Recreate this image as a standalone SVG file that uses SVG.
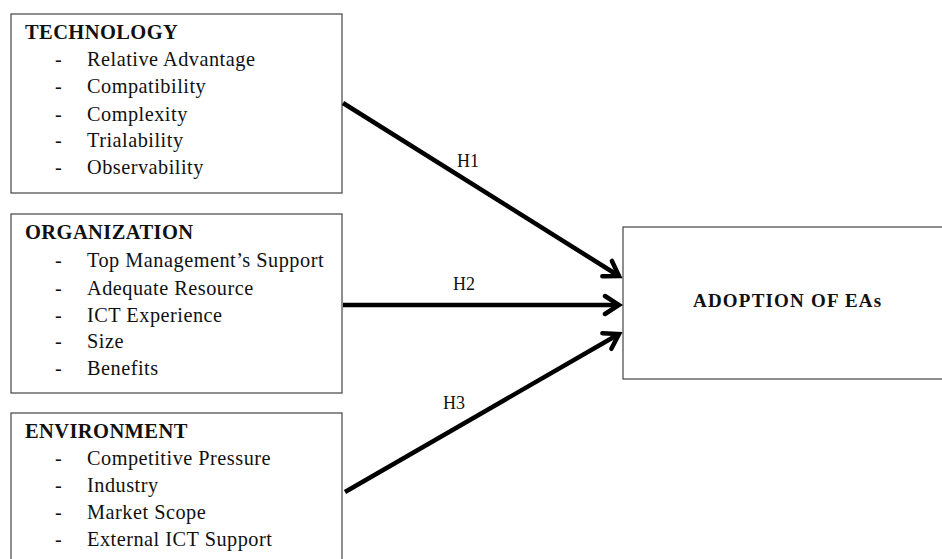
<svg xmlns="http://www.w3.org/2000/svg" width="942" height="559" viewBox="0 0 942 559">
<style>
.box{fill:#fff;stroke:#444;stroke-width:1.2}
.t{font-family:"Liberation Serif","Times New Roman",serif;font-size:20.3px;fill:#111}
.h{font-weight:bold;font-size:20.5px;letter-spacing:0.4px}
.i{letter-spacing:0.5px}
.lbl{font-family:"Liberation Serif","Times New Roman",serif;font-size:18px;fill:#111}
.c{stroke:#000;stroke-width:4.5;fill:none;marker-end:url(#ah)}
</style>
<defs>
<marker id="ah" markerUnits="userSpaceOnUse" viewBox="-20 -12 24 24" refX="0" refY="0" markerWidth="24" markerHeight="24" orient="auto">
<polyline points="-14,-9 0,0 -14,9" fill="none" stroke="#000" stroke-width="4.5" stroke-linecap="round" stroke-linejoin="miter"/>
</marker>
</defs>
<rect width="942" height="559" fill="#fff"/>
<g id="technology">
<rect class="box" x="11" y="14" width="331" height="179"/>
<text class="t h" x="25" y="39">TECHNOLOGY</text>
<g class="t i">
<text x="55" y="66">-</text><text x="87" y="66">Relative Advantage</text>
<text x="55" y="93">-</text><text x="87" y="93">Compatibility</text>
<text x="55" y="121">-</text><text x="87" y="121">Complexity</text>
<text x="55" y="147">-</text><text x="87" y="147">Trialability</text>
<text x="55" y="174">-</text><text x="87" y="174">Observability</text>
</g>
</g>
<g id="organization">
<rect class="box" x="11" y="214" width="331" height="179"/>
<text class="t h" x="25" y="239">ORGANIZATION</text>
<g class="t i">
<text x="55" y="267">-</text><text x="87" y="267">Top Management’s Support</text>
<text x="55" y="295">-</text><text x="87" y="295">Adequate Resource</text>
<text x="55" y="322">-</text><text x="87" y="322">ICT Experience</text>
<text x="55" y="348">-</text><text x="87" y="348">Size</text>
<text x="55" y="375">-</text><text x="87" y="375">Benefits</text>
</g>
</g>
<g id="environment">
<rect class="box" x="11" y="413" width="331" height="160"/>
<text class="t h" x="25" y="438">ENVIRONMENT</text>
<g class="t i">
<text x="55" y="465">-</text><text x="87" y="465">Competitive Pressure</text>
<text x="55" y="492">-</text><text x="87" y="492">Industry</text>
<text x="55" y="519">-</text><text x="87" y="519">Market Scope</text>
<text x="55" y="546">-</text><text x="87" y="546">External ICT Support</text>
</g>
</g>
<g id="adoption">
<rect class="box" x="623" y="227" width="330" height="152"/>
<text class="t h" x="693" y="307" style="font-size:19px;letter-spacing:1.2px">ADOPTION OF EAs</text>
</g>
<g id="connectors">
<line class="c" x1="343" y1="103" x2="619" y2="276"/>
<line class="c" x1="343" y1="305" x2="619" y2="305"/>
<line class="c" x1="345" y1="492" x2="619" y2="334"/>
<text class="lbl" x="457" y="167">H1</text>
<text class="lbl" x="453" y="290">H2</text>
<text class="lbl" x="443" y="409">H3</text>
</g>
</svg>
